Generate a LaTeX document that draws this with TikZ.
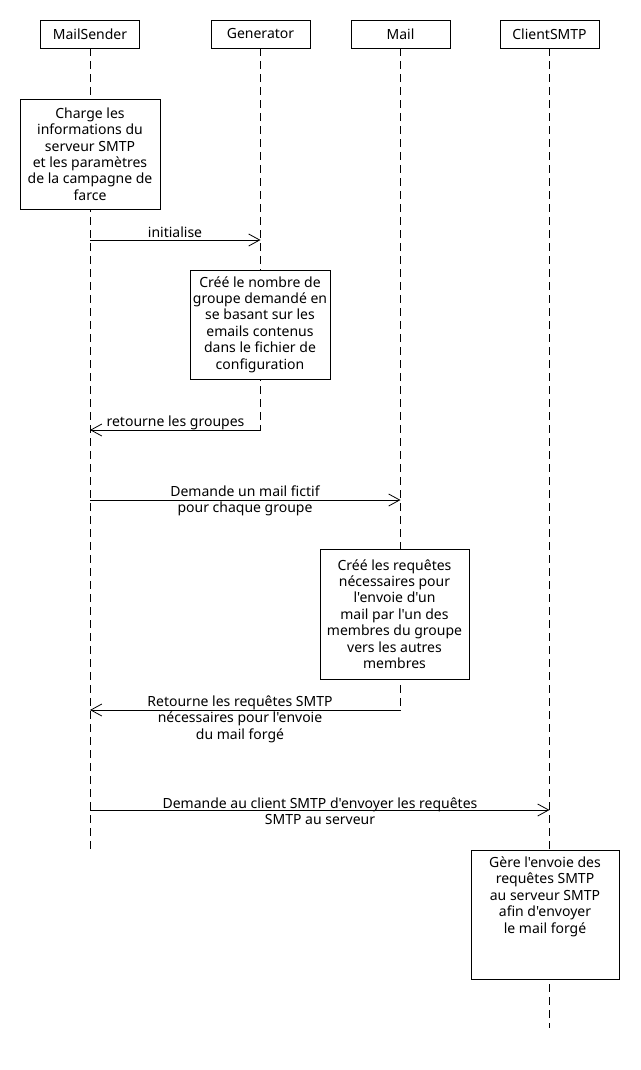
\documentclass[tikz,border=0pt]{standalone}
\usepackage{fontspec}
\setmainfont{Noto Sans}[Ligatures=TeXOff]
\usetikzlibrary{arrows.meta}
\begin{document}
\begin{tikzpicture}[x=1pt,y=-1pt,
  every node/.style={font=\fontsize{14}{16.4}\selectfont, inner sep=0pt},
  head/.style={draw, fill=white, line width=0.8pt, minimum width=99pt, minimum height=28pt},
  actbox/.style={draw, fill=white, line width=0.8pt, align=center},
  life/.style={line width=0.8pt, dash pattern=on 8pt off 5pt},
  msg/.style={line width=0.8pt, -{Straight Barb[length=11pt,width=12pt,line width=0.8pt]}},
  lbl/.style={align=center}]
\useasboundingbox (0,0) rectangle (640,1070);
% heads
\node[head] (ms) at (90,34) {MailSender};
\node[head] (gen) at (260.5,34) {Generator};
\node[head] (mail) at (400.5,34) {Mail};
\node[head] (cli) at (549.5,34) {ClientSMTP};
% lifeline ends
\coordinate (msE) at (90,850);
\coordinate (genE) at (260.5,430);
\coordinate (mailE) at (400.5,710);
\coordinate (cliE) at (549.5,1028);
\draw[life] (ms.south) -- (msE);
\draw[life] (gen.south) -- (genE);
\draw[life] (mail.south) -- (mailE);
\draw[life] (cli.south) -- (cliE);
% activity boxes
\node[actbox, minimum width=140pt, minimum height=110pt] (b1) at (90,154)
 {Charge les\\informations du\\serveur SMTP\\et les paramètres\\de la campagne de\\farce};
\node[actbox, minimum width=140pt, minimum height=109pt] (b2) at (260,324.5)
 {Créé le nombre de\\groupe demandé en\\se basant sur les\\emails contenus\\dans le fichier de\\configuration};
\node[actbox, minimum width=149pt, minimum height=130pt] (b3) at (394.5,614)
 {Créé les requêtes\\nécessaires pour\\l'envoie d'un\\mail par l'un des\\membres du groupe\\vers les autres\\membres};
\node[draw, fill=white, line width=0.8pt, minimum width=148pt, minimum height=129pt] (b4) at (545,914.5) {};
\node[lbl, anchor=north] (b4t) at ([yshift=-7pt]b4.north)
 {Gère l'envoie des\\requêtes SMTP\\au serveur SMTP\\afin d'envoyer\\le mail forgé};
% message coordinates
\coordinate (m1a) at (90,240); \coordinate (m1b) at (260.5,240);
\coordinate (m2a) at (260.5,430); \coordinate (m2b) at (90,430);
\coordinate (m3a) at (90,500); \coordinate (m3b) at (400.5,500);
\coordinate (m4a) at (400.5,710); \coordinate (m4b) at (90,710);
\coordinate (m5a) at (90,810); \coordinate (m5b) at (549.5,810);
\draw[msg] (m1a) -- (m1b);
\draw[msg] (m2a) -- (m2b);
\draw[msg] (m3a) -- (m3b);
\draw[msg] (m4a) -- (m4b);
\draw[msg] (m5a) -- (m5b);
% labels
\node[lbl] (l1) at (175,232.5) {initialise};
\node[lbl] (l2) at (175.5,422.5) {retourne les groupes};
\node[lbl] (l3) at (245,501) {Demande un mail fictif\\pour chaque groupe};
\node[lbl] (l4) at (240,719) {Retourne les requêtes SMTP\\nécessaires pour l'envoie\\du mail forgé};
\node[lbl] (l5) at (320,811) {Demande au client SMTP d'envoyer les requêtes\\SMTP au serveur};
\end{tikzpicture}
\end{document}
